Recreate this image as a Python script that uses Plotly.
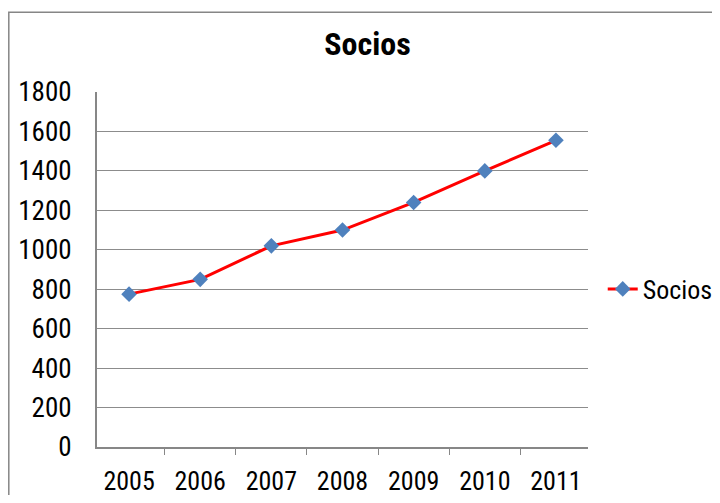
import plotly.graph_objects as go

years = ["2005", "2006", "2007", "2008", "2009", "2010", "2011"]
socios = [775, 850, 1020, 1100, 1240, 1400, 1555]
y_ticks = [0, 200, 400, 600, 800, 1000, 1200, 1400, 1600, 1800]

FONT = "Roboto Condensed, Carlito, sans-serif"

# The page body has an 8px default margin, so the figure is sized to fit
# inside the 720x503 window and offset accordingly.
W, H = 704, 487
L, T, R, B = 89, 84, 124, 48
PW, PH = W - L - R, H - T - B

fig = go.Figure()
fig.add_trace(go.Scatter(
    x=years, y=socios, name="Socios", mode="lines+markers",
    line=dict(color="#FF0000", width=3),
    marker=dict(symbol="diamond", size=12, color="#4F81BD"),
))

fig.update_layout(
    width=W, height=H,
    margin=dict(l=L, r=R, t=T, b=B, autoexpand=False),
    paper_bgcolor="white", plot_bgcolor="white",
    font=dict(family=FONT, size=27, color="#000000"),
    title=dict(text="<b>Socios</b>", x=359.5 / W, xanchor="center",
               y=1 - 36 / H, yanchor="middle",
               font=dict(family=FONT, size=32, color="#000000")),
    showlegend=True,
    legend=dict(x=1.03, y=0.445, xanchor="left", yanchor="middle",
                font=dict(family=FONT, size=26), itemwidth=30,
                bgcolor="rgba(0,0,0,0)"),
    xaxis=dict(type="category", showgrid=False, showline=True,
               linecolor="#878787", linewidth=2, ticks="outside",
               tickson="boundaries", ticklen=6, tickcolor="#878787",
               tickwidth=1, ticklabelstandoff=10, automargin=False,
               tickfont=dict(family=FONT, size=26)),
    yaxis=dict(range=[0, 1800], tickvals=y_ticks, showgrid=True,
               gridcolor="#8C8C8C", gridwidth=1, showline=True,
               linecolor="#878787", linewidth=2, zeroline=False,
               ticks="", ticklabelstandoff=18, automargin=False,
               tickfont=dict(family=FONT, size=27)),
)

# outer chart-area frame
fig.add_shape(type="rect", xref="paper", yref="paper",
              x0=(0.8 - L) / PW, x1=(730 - L) / PW,
              y0=(PH + T - 520) / PH, y1=(PH + T - 4.3) / PH,
              line=dict(color="#868686", width=1.5), fillcolor="rgba(0,0,0,0)",
              layer="below")

fig.write_html("out.html")
